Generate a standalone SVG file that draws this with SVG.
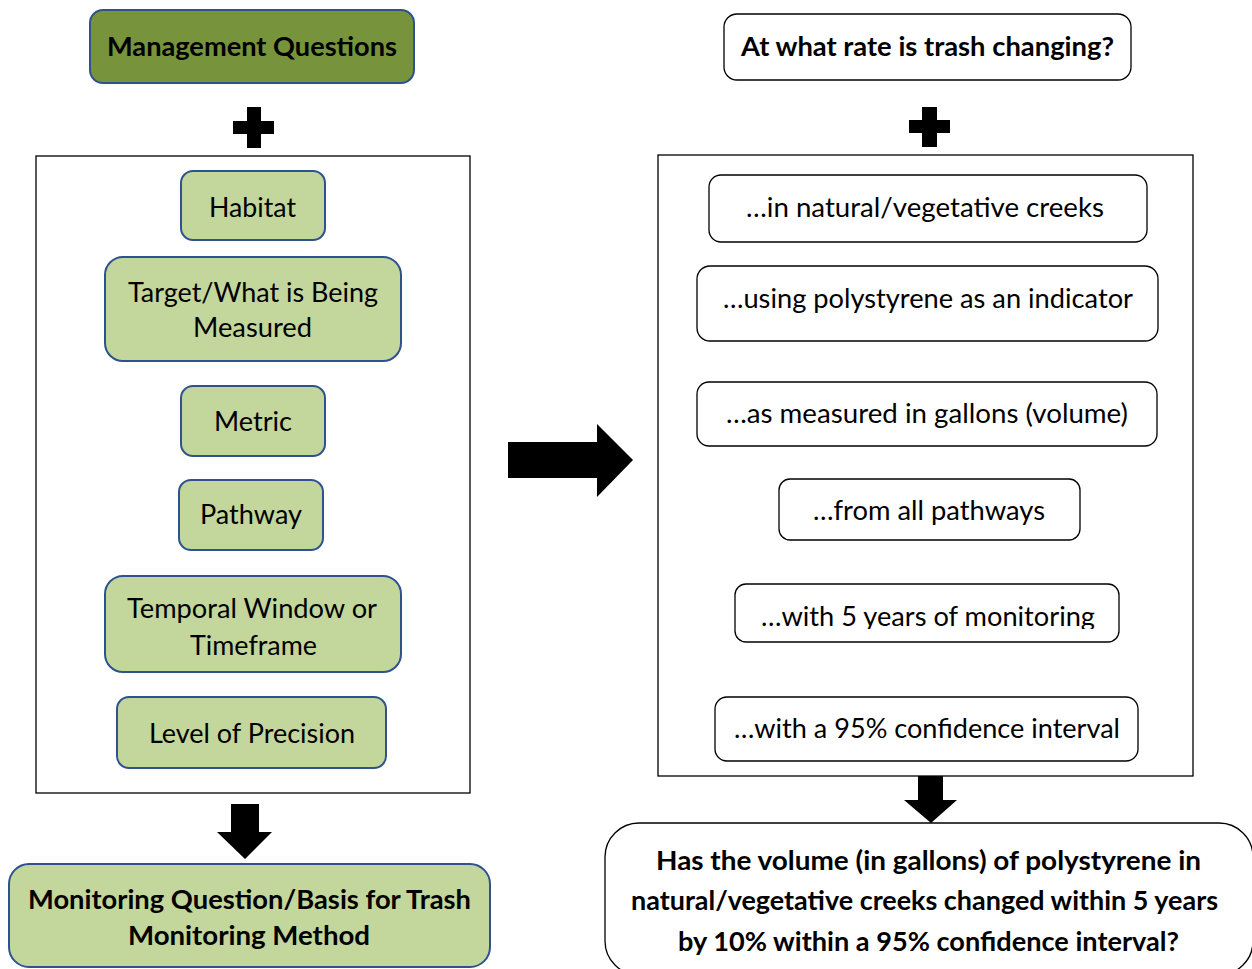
<svg xmlns="http://www.w3.org/2000/svg" width="1252" height="969" viewBox="0 0 1252 969">
<style>
  text { font-family: Lato, "Open Sans", "Liberation Sans", sans-serif; fill: #000; text-anchor: middle; }
  .r { font-size: 27px; }
  .t { font-size: 26px; font-weight: bold; }
  .tb { font-size: 27px; font-weight: bold; }
  .dark { fill: #77933C; stroke: #2F528F; stroke-width: 2; }
  .light { fill: #C3D69B; stroke: #2F528F; stroke-width: 2; }
  .white { fill: #FFFFFF; stroke: #000; stroke-width: 1.3; }
  .frame { fill: none; stroke: #000; stroke-width: 1.3; }
  .blk { fill: #000; stroke: none; }
</style>
<defs>
  <clipPath id="clip5"><rect x="730" y="580" width="400" height="49"/></clipPath>
</defs>
<rect x="0" y="0" width="1252" height="969" fill="#FFFFFF"/>

<g id="containers">
  <rect class="frame" x="36" y="156" width="434" height="637"/>
  <rect class="frame" x="658" y="155" width="535" height="621"/>
</g>

<g id="connectors">
  <path class="blk" d="M247 107 H261 V121 H274 V134 H261 V148 H247 V134 H233 V121 H247 Z"/>
  <path class="blk" d="M922 107 H937 V120 H950 V133 H937 V147 H922 V133 H909 V120 H922 Z"/>
  <path class="blk" d="M508 442 H597 V424 L633 460 L597 497 V478 H508 Z"/>
  <path class="blk" d="M231 804 H259 V832 H272 L245 859 L217 832 H231 Z"/>
  <path class="blk" d="M918 776 H943 V800 H957 L931 823 L904 800 H918 Z"/>
</g>

<g id="management-questions">
  <rect class="dark" x="90" y="10" width="324" height="73" rx="13"/>
  <text class="t" x="252" y="56" textLength="290" lengthAdjust="spacingAndGlyphs">Management Questions</text>
</g>
<g id="habitat">
  <rect class="light" x="181" y="171" width="144" height="69" rx="12"/>
  <text class="r" x="252.5" y="217" textLength="87" lengthAdjust="spacingAndGlyphs">Habitat</text>
</g>
<g id="target">
  <rect class="light" x="105" y="257" width="296" height="104" rx="18"/>
  <text class="r" x="253" y="302" textLength="250" lengthAdjust="spacingAndGlyphs">Target/What is Being</text>
  <text class="r" x="252.5" y="337" textLength="119" lengthAdjust="spacingAndGlyphs">Measured</text>
</g>
<g id="metric">
  <rect class="light" x="181" y="386" width="144" height="70" rx="12"/>
  <text class="r" x="253" y="431" textLength="78" lengthAdjust="spacingAndGlyphs">Metric</text>
</g>
<g id="pathway">
  <rect class="light" x="179" y="480" width="144" height="70" rx="12"/>
  <text class="r" x="251" y="524" textLength="102" lengthAdjust="spacingAndGlyphs">Pathway</text>
</g>
<g id="temporal">
  <rect class="light" x="105" y="576" width="296" height="96" rx="18"/>
  <text class="r" x="252" y="618" textLength="250" lengthAdjust="spacingAndGlyphs">Temporal Window or</text>
  <text class="r" x="253.5" y="655" textLength="127" lengthAdjust="spacingAndGlyphs">Timeframe</text>
</g>
<g id="precision">
  <rect class="light" x="117" y="697" width="269" height="71" rx="12"/>
  <text class="r" x="252" y="743" textLength="206" lengthAdjust="spacingAndGlyphs">Level of Precision</text>
</g>
<g id="monitoring-question">
  <rect class="light" x="9" y="864" width="481" height="103" rx="20"/>
  <text class="t" x="249.5" y="909" textLength="443" lengthAdjust="spacingAndGlyphs">Monitoring Question/Basis for Trash</text>
  <text class="t" x="249" y="945" textLength="242" lengthAdjust="spacingAndGlyphs">Monitoring Method</text>
</g>

<g id="rate-question">
  <rect class="white" x="724" y="14" width="407" height="66" rx="13"/>
  <text class="t" x="927.5" y="56" textLength="373" lengthAdjust="spacingAndGlyphs">At what rate is trash changing?</text>
</g>
<g id="creeks">
  <rect class="white" x="709" y="175" width="438" height="67" rx="12"/>
  <text class="r" x="925" y="217" textLength="358" lengthAdjust="spacingAndGlyphs">…in natural/vegetative creeks</text>
</g>
<g id="polystyrene">
  <rect class="white" x="697" y="266" width="461" height="75" rx="13"/>
  <text class="r" x="928" y="308" textLength="410" lengthAdjust="spacingAndGlyphs">…using polystyrene as an indicator</text>
</g>
<g id="gallons">
  <rect class="white" x="697" y="382" width="460" height="64" rx="12"/>
  <text class="r" x="927" y="423" textLength="402" lengthAdjust="spacingAndGlyphs">…as measured in gallons (volume)</text>
</g>
<g id="pathways">
  <rect class="white" x="779" y="479" width="301" height="61" rx="11"/>
  <text class="r" x="929" y="520" textLength="232" lengthAdjust="spacingAndGlyphs">…from all pathways</text>
</g>
<g id="years">
  <rect class="white" x="735" y="584" width="384" height="58" rx="11"/>
  <text class="r" x="928" y="626" textLength="334" lengthAdjust="spacingAndGlyphs" clip-path="url(#clip5)">…with 5 years of monitoring</text>
</g>
<g id="confidence">
  <rect class="white" x="715" y="697" width="423" height="64" rx="12"/>
  <text class="r" x="927" y="738" textLength="386" lengthAdjust="spacingAndGlyphs">…with a 95% confidence interval</text>
</g>
<g id="final-question">
  <rect class="white" x="605" y="823" width="648" height="152" rx="34"/>
  <text class="tb" x="928.5" y="870" textLength="545" lengthAdjust="spacingAndGlyphs">Has the volume (in gallons) of polystyrene in</text>
  <text class="tb" x="924.5" y="910" textLength="587" lengthAdjust="spacingAndGlyphs">natural/vegetative creeks changed within 5 years</text>
  <text class="tb" x="928.5" y="951" textLength="501" lengthAdjust="spacingAndGlyphs">by 10% within a 95% confidence interval?</text>
</g>
</svg>
